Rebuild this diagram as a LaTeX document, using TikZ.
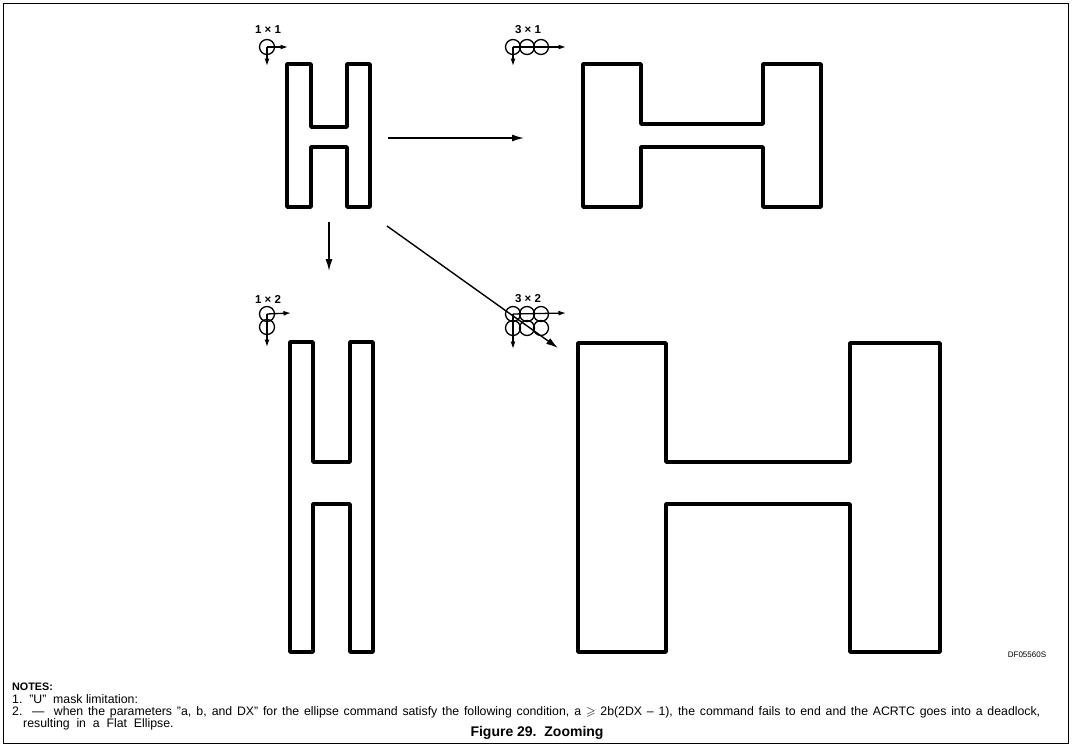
\documentclass[tikz,border=0pt]{standalone}
\usepackage{fontspec}
\setmainfont{Liberation Sans}
\usepackage{amssymb}
\usetikzlibrary{arrows.meta}
\begin{document}
\begin{tikzpicture}[x=1pt,y=-1pt,
  hshape/.style={line width=3.6pt, line join=round},
  arr/.style={line width=1.4pt, -{Latex[length=12pt,width=7pt]}},
  iarr/.style={line width=1.3pt, -{Latex[length=7.5pt,width=5pt]}},
  ring/.style={circle, draw, line width=1.3pt, minimum size=15pt, inner sep=0pt},
  lbl/.style={font=\fontsize{11.5}{13}\selectfont\bfseries, inner sep=0pt},
  note/.style={font=\fontsize{12.3}{14}\selectfont, anchor=west, inner sep=0pt}]
\useasboundingbox (0,0) rectangle (1072,747);
\draw[line width=1.5pt] (3.5,3.5) rectangle (1068.5,743.5);

% ---------- H shapes ----------
% H1 (1x1)
\draw[hshape] (287,64) -- (311,64) -- (311,127) -- (347,127) -- (347,64) -- (370,64)
  -- (370,207) -- (347,207) -- (347,147) -- (311,147) -- (311,207) -- (287,207) -- cycle;
% H2 (3x1)
\draw[hshape] (583,64) -- (641,64) -- (641,124) -- (763,124) -- (763,64) -- (821,64)
  -- (821,207) -- (763,207) -- (763,147) -- (641,147) -- (641,207) -- (583,207) -- cycle;
% H3 (1x2)
\draw[hshape] (290,342) -- (313,342) -- (313,462) -- (350,462) -- (350,342) -- (373,342)
  -- (373,652) -- (350,652) -- (350,504) -- (313,504) -- (313,652) -- (290,652) -- cycle;
% H4 (3x2)
\draw[hshape] (578,343) -- (666,343) -- (666,462) -- (850,462) -- (850,343) -- (940,343)
  -- (940,652) -- (850,652) -- (850,504) -- (666,504) -- (666,652) -- (578,652) -- cycle;

% ---------- connectors ----------
\coordinate (a1s) at (388,138); \coordinate (a1e) at (524,138);
\coordinate (a2s) at (329,222); \coordinate (a2e) at (329,271);
\coordinate (a3s) at (387,226); \coordinate (a3e) at (558,348);
\draw[arr] (a1s) -- (a1e);
\draw[arr] (a2s) -- (a2e);
\draw[arr] (a3s) -- (a3e);

% ---------- icon 1x1 ----------
\node[lbl] (l11) at (268,30) {1 × 1};
\node[ring] (c11) at (267,47) {};
\coordinate (r11) at (288,47); \coordinate (d11) at (267,66);
\draw[iarr] (c11.center) -- (r11);
\draw[iarr] (c11.center) -- (d11);

% ---------- icon 3x1 ----------
\node[lbl] (l31) at (528,30) {3 × 1};
\node[ring] (c31a) at (513,47) {};
\node[ring] (c31b) at (527,47) {};
\node[ring] (c31c) at (541,47) {};
\coordinate (r31) at (566,47); \coordinate (d31) at (513,66);
\draw[iarr] (c31a.center) -- (r31);
\draw[iarr] (c31a.center) -- (d31);

% ---------- icon 1x2 ----------
\node[lbl] (l12) at (268,299) {1 × 2};
\node[ring] (c12a) at (267,314) {};
\node[ring] (c12b) at (267,327) {};
\coordinate (r12) at (291,313); \coordinate (d12) at (267,347);
\draw[iarr] (c12a.center) -- (r12);
\draw[iarr] (c12a.center) -- (d12);

% ---------- icon 3x2 ----------
\node[lbl] (l32) at (528,299) {3 × 2};
\node[ring] (c32a) at (513,314) {};
\node[ring] (c32b) at (527,314) {};
\node[ring] (c32c) at (541,314) {};
\node[ring] (c32d) at (513,328) {};
\node[ring] (c32e) at (527,328) {};
\node[ring] (c32f) at (541,328) {};
\coordinate (r32) at (566,313); \coordinate (d32) at (513,349);
\draw[iarr] (c32a.center) -- (r32);
\draw[iarr] (c32a.center) -- (d32);

% ---------- texts ----------
\node[font=\fontsize{8}{9}\selectfont, inner sep=0pt] (df) at (1027,655) {DF05560S};
\node[note, font=\fontsize{10.8}{12}\selectfont\bfseries] (notes) at (12,687) {NOTES:};
\node[note] (n1) at (12,699) {1.\ \ ''U''\ \ mask limitation:};
\node[note] (n2) at (12,712) {\makebox[1028pt][s]{2.\ \ ---\ \ when the parameters ''a, b, and DX'' for the ellipse command satisfy the following condition, a $\geqslant$ 2b(2DX -- 1), the command fails to end and the ACRTC goes into a deadlock,}};
\node[note] (n3) at (23,724) {resulting\ \ in\ \ a\ \ Flat\ \ Ellipse.};
\node[font=\fontsize{14}{16}\selectfont\bfseries, inner sep=0pt] (cap) at (537,733) {Figure 29.\ \ Zooming};
\end{tikzpicture}
\end{document}
